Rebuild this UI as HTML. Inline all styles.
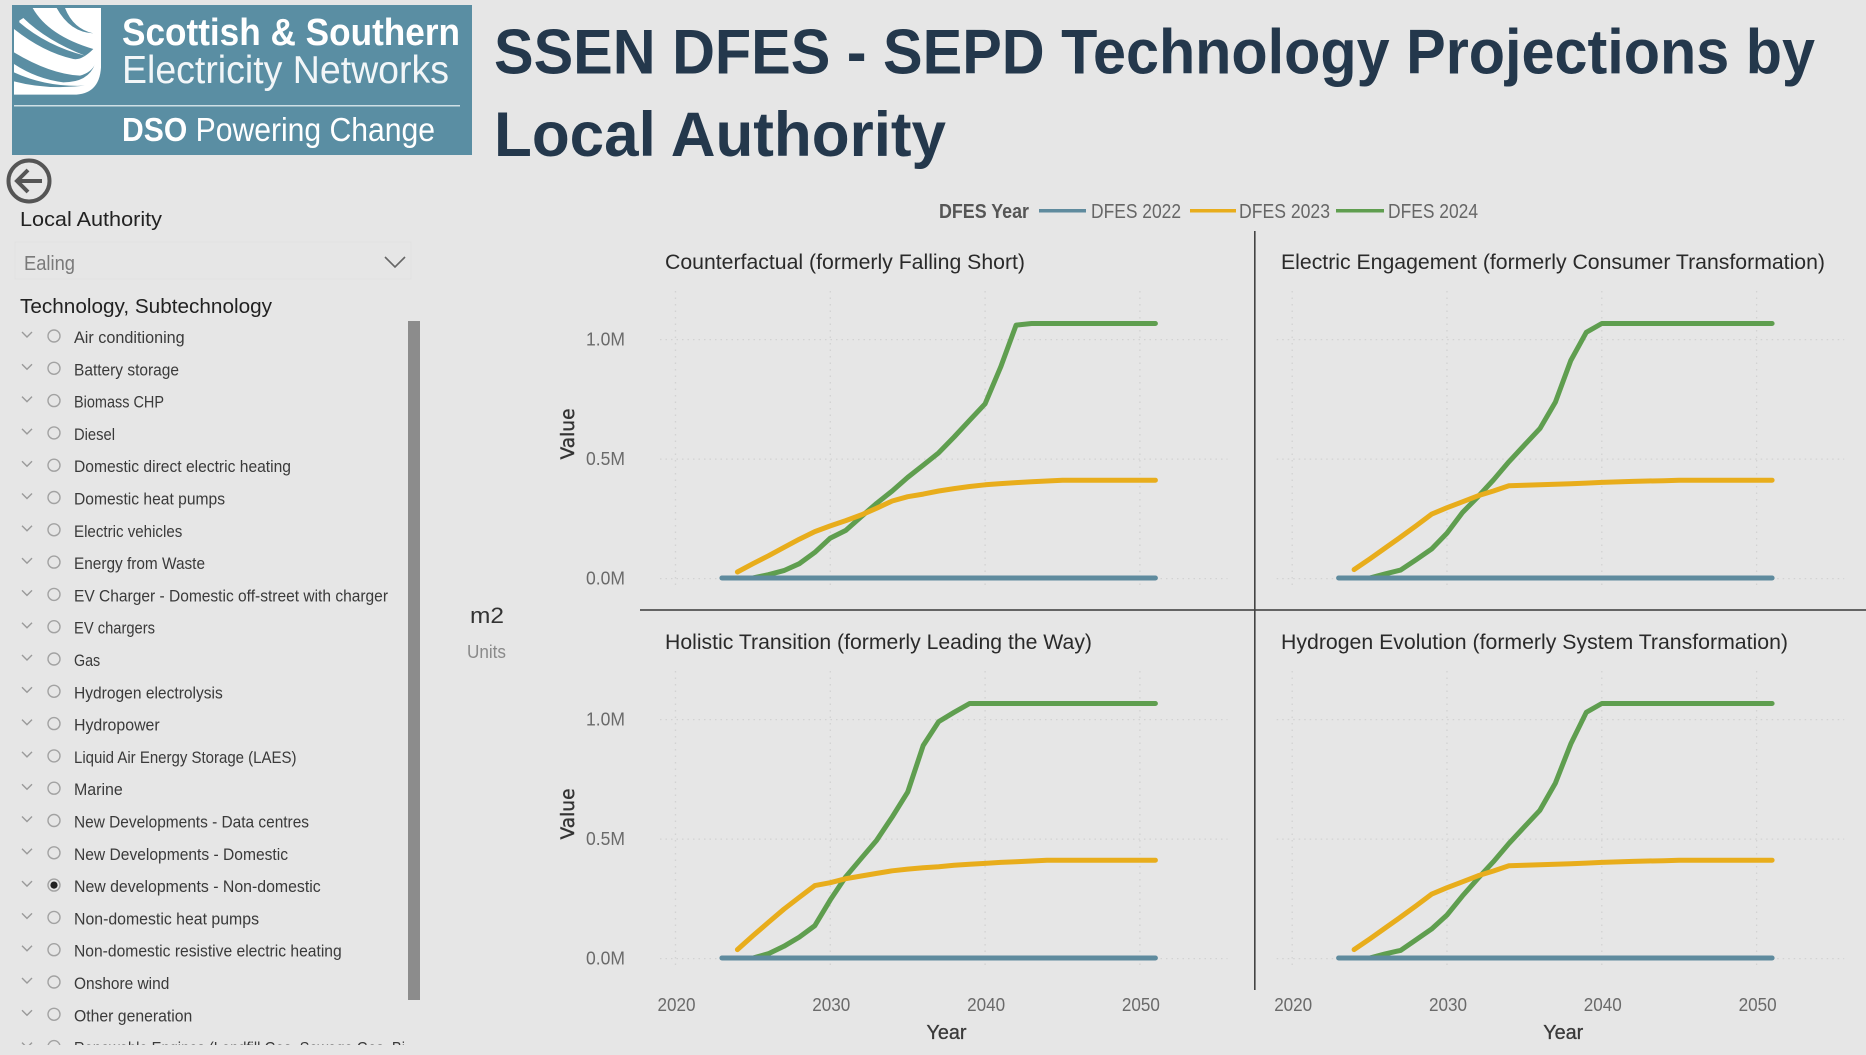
<!DOCTYPE html>
<html lang="en">
<head>
<meta charset="utf-8">
<title>SSEN DFES - SEPD Technology Projections by Local Authority</title>
<style>
html,body{margin:0;padding:0;background:#e6e6e6;width:1866px;height:1055px;overflow:hidden}
svg{display:block}
text{font-family:"Liberation Sans",sans-serif}
.row text{font-size:17px;fill:#3a3a3a}
.row path{fill:none;stroke:#9a9a9a;stroke-width:1.4}
.row circle{fill:none;stroke:#a2a2a2;stroke-width:1.4}
.scenario{font-size:21px;fill:#2a2a2a}
.tick{font-size:18px;fill:#6a6a6a}
.axis-title{font-size:20px;fill:#3a3a3a}
.legend-text{font-size:20px;fill:#666}
</style>
</head>
<body>
<svg id="page" xmlns="http://www.w3.org/2000/svg" width="1866" height="1055" viewBox="0 0 1866 1055">
  <defs><clipPath id="listClip"><rect x="0" y="320" width="405" height="725"/></clipPath></defs>
  <rect width="1866" height="1055" fill="#e6e6e6"/>

  <g>
    <rect x="12" y="5" width="460" height="150" fill="#5a8ea3"/>
    <g transform="translate(10,4) scale(.33333)">
      <path d="M12 12H273V190Q268 272 190 272H12Z" fill="#fff"/>
      <path d="M12 12H68Q115 95 250 135Q215 170 190 165Q100 145 12 75Z" fill="#5a8ea3"/>
      <path d="M28 50L40 42Q110 110 225 155Q110 125 28 55Z" fill="#fff"/>
      <path d="M140 12H165Q190 75 250 88Q180 85 140 12Z" fill="#5a8ea3"/>
      <path d="M12 145Q120 210 210 215Q245 205 255 180Q235 235 160 235Q80 225 12 180Z" fill="#5a8ea3"/>
      <path d="M12 205Q110 250 225 245Q110 258 12 232Z" fill="#5a8ea3"/>
    </g>
    <text x="122" y="45" font-size="38" font-weight="bold" fill="#fff" textLength="338" lengthAdjust="spacingAndGlyphs">Scottish &amp; Southern</text>
    <text x="122" y="83" font-size="39" fill="#f2f6f8" textLength="327" lengthAdjust="spacingAndGlyphs">Electricity Networks</text>
    <rect x="14" y="105" width="446" height="1.5" fill="#cfe0e6"/>
    <text x="122" y="141" font-size="33" fill="#fff" textLength="313" lengthAdjust="spacingAndGlyphs"><tspan font-weight="bold">DSO</tspan> Powering Change</text>
  </g>

  <text x="494" y="73.5" font-size="63" font-weight="bold" fill="#24384c" textLength="1321" lengthAdjust="spacingAndGlyphs">SSEN DFES - SEPD Technology Projections by</text>
  <text x="494" y="156" font-size="63" font-weight="bold" fill="#24384c" textLength="452" lengthAdjust="spacingAndGlyphs">Local Authority</text>

  <g>
    <circle cx="29" cy="181" r="20.5" fill="none" stroke="#555" stroke-width="4"/>
    <path d="M42 181H18M28 170L17 181L28 192" fill="none" stroke="#555" stroke-width="4"/>
  </g>

  <text x="20" y="226" font-size="20" fill="#222" textLength="142" lengthAdjust="spacingAndGlyphs">Local Authority</text>
  <g>
    <rect x="15" y="242" width="396" height="37" fill="none" stroke="#e1e1e1" stroke-width="1"/>
    <text x="24" y="270" font-size="20" fill="#7a7a7a" textLength="51" lengthAdjust="spacingAndGlyphs">Ealing</text>
    <path d="M385 257L395 267L405 257" fill="none" stroke="#666" stroke-width="1.6"/>
  </g>
  <text x="20" y="313" font-size="20" fill="#222" textLength="252" lengthAdjust="spacingAndGlyphs">Technology, Subtechnology</text>

  <g clip-path="url(#listClip)">
    <g class="row" transform="translate(0,343)"><path d="M22-11l5 5 5-5"/><circle cx="54" cy="-7" r="6"/><text x="74" textLength="110.7" lengthAdjust="spacingAndGlyphs">Air conditioning</text></g>
    <g class="row" transform="translate(0,375.3)"><path d="M22-11l5 5 5-5"/><circle cx="54" cy="-7" r="6"/><text x="74" textLength="105" lengthAdjust="spacingAndGlyphs">Battery storage</text></g>
    <g class="row" transform="translate(0,407.6)"><path d="M22-11l5 5 5-5"/><circle cx="54" cy="-7" r="6"/><text x="74" textLength="90" lengthAdjust="spacingAndGlyphs">Biomass CHP</text></g>
    <g class="row" transform="translate(0,439.9)"><path d="M22-11l5 5 5-5"/><circle cx="54" cy="-7" r="6"/><text x="74" textLength="41" lengthAdjust="spacingAndGlyphs">Diesel</text></g>
    <g class="row" transform="translate(0,472.2)"><path d="M22-11l5 5 5-5"/><circle cx="54" cy="-7" r="6"/><text x="74" textLength="217" lengthAdjust="spacingAndGlyphs">Domestic direct electric heating</text></g>
    <g class="row" transform="translate(0,504.5)"><path d="M22-11l5 5 5-5"/><circle cx="54" cy="-7" r="6"/><text x="74" textLength="151" lengthAdjust="spacingAndGlyphs">Domestic heat pumps</text></g>
    <g class="row" transform="translate(0,536.8)"><path d="M22-11l5 5 5-5"/><circle cx="54" cy="-7" r="6"/><text x="74" textLength="108.3" lengthAdjust="spacingAndGlyphs">Electric vehicles</text></g>
    <g class="row" transform="translate(0,569.1)"><path d="M22-11l5 5 5-5"/><circle cx="54" cy="-7" r="6"/><text x="74" textLength="131" lengthAdjust="spacingAndGlyphs">Energy from Waste</text></g>
    <g class="row" transform="translate(0,601.4)"><path d="M22-11l5 5 5-5"/><circle cx="54" cy="-7" r="6"/><text x="74" textLength="314" lengthAdjust="spacingAndGlyphs">EV Charger - Domestic off-street with charger</text></g>
    <g class="row" transform="translate(0,633.7)"><path d="M22-11l5 5 5-5"/><circle cx="54" cy="-7" r="6"/><text x="74" textLength="81" lengthAdjust="spacingAndGlyphs">EV chargers</text></g>
    <g class="row" transform="translate(0,666)"><path d="M22-11l5 5 5-5"/><circle cx="54" cy="-7" r="6"/><text x="74" textLength="26.2" lengthAdjust="spacingAndGlyphs">Gas</text></g>
    <g class="row" transform="translate(0,698.3)"><path d="M22-11l5 5 5-5"/><circle cx="54" cy="-7" r="6"/><text x="74" textLength="148.8" lengthAdjust="spacingAndGlyphs">Hydrogen electrolysis</text></g>
    <g class="row" transform="translate(0,730.6)"><path d="M22-11l5 5 5-5"/><circle cx="54" cy="-7" r="6"/><text x="74" textLength="85.7" lengthAdjust="spacingAndGlyphs">Hydropower</text></g>
    <g class="row" transform="translate(0,762.9)"><path d="M22-11l5 5 5-5"/><circle cx="54" cy="-7" r="6"/><text x="74" textLength="222.5" lengthAdjust="spacingAndGlyphs">Liquid Air Energy Storage (LAES)</text></g>
    <g class="row" transform="translate(0,795.2)"><path d="M22-11l5 5 5-5"/><circle cx="54" cy="-7" r="6"/><text x="74" textLength="48.8" lengthAdjust="spacingAndGlyphs">Marine</text></g>
    <g class="row" transform="translate(0,827.5)"><path d="M22-11l5 5 5-5"/><circle cx="54" cy="-7" r="6"/><text x="74" textLength="235" lengthAdjust="spacingAndGlyphs">New Developments - Data centres</text></g>
    <g class="row" transform="translate(0,859.8)"><path d="M22-11l5 5 5-5"/><circle cx="54" cy="-7" r="6"/><text x="74" textLength="214" lengthAdjust="spacingAndGlyphs">New Developments - Domestic</text></g>
    <g class="row" transform="translate(0,892.1)"><path d="M22-11l5 5 5-5"/><circle cx="54" cy="-7" r="6"/><circle cx="54" cy="-7" r="3.6" style="fill:#222;stroke:none"/><text x="74" textLength="246.7" lengthAdjust="spacingAndGlyphs">New developments - Non-domestic</text></g>
    <g class="row" transform="translate(0,924.4)"><path d="M22-11l5 5 5-5"/><circle cx="54" cy="-7" r="6"/><text x="74" textLength="185" lengthAdjust="spacingAndGlyphs">Non-domestic heat pumps</text></g>
    <g class="row" transform="translate(0,956.7)"><path d="M22-11l5 5 5-5"/><circle cx="54" cy="-7" r="6"/><text x="74" textLength="267.7" lengthAdjust="spacingAndGlyphs">Non-domestic resistive electric heating</text></g>
    <g class="row" transform="translate(0,989)"><path d="M22-11l5 5 5-5"/><circle cx="54" cy="-7" r="6"/><text x="74" textLength="95.3" lengthAdjust="spacingAndGlyphs">Onshore wind</text></g>
    <g class="row" transform="translate(0,1021.3)"><path d="M22-11l5 5 5-5"/><circle cx="54" cy="-7" r="6"/><text x="74" textLength="118.3" lengthAdjust="spacingAndGlyphs">Other generation</text></g>
    <g class="row" transform="translate(0,1053.6)"><path d="M22-11l5 5 5-5"/><circle cx="54" cy="-7" r="6"/><text x="74" textLength="331" lengthAdjust="spacingAndGlyphs">Renewable Engines (Landfill Gas, Sewage Gas, Bi</text></g>
  </g>
  <rect x="408" y="321" width="12" height="679" fill="#8c8c8c"/>

  <text x="470" y="623" font-size="22" fill="#333" textLength="34" lengthAdjust="spacingAndGlyphs">m2</text>
  <text x="467" y="658" font-size="18" fill="#8a8a8a" textLength="39" lengthAdjust="spacingAndGlyphs">Units</text>

  <g>
    <text x="939" y="218" font-size="20" font-weight="bold" fill="#555" textLength="90" lengthAdjust="spacingAndGlyphs">DFES Year</text>
    <rect x="1039" y="209" width="47" height="3.5" fill="#5f8b9e"/>
    <text class="legend-text" x="1091" y="218" textLength="90" lengthAdjust="spacingAndGlyphs">DFES 2022</text>
    <rect x="1190" y="209" width="46" height="3.5" fill="#e8ad1c"/>
    <text class="legend-text" x="1239" y="218" textLength="91" lengthAdjust="spacingAndGlyphs">DFES 2023</text>
    <rect x="1336" y="209" width="48" height="3.5" fill="#5f9e4f"/>
    <text class="legend-text" x="1388" y="218" textLength="90" lengthAdjust="spacingAndGlyphs">DFES 2024</text>
  </g>

  <rect x="1254" y="231" width="1.6" height="759" fill="#444"/>
  <rect x="640" y="609.2" width="1226" height="1.6" fill="#444"/>

  <text class="scenario" x="665" y="269" textLength="360" lengthAdjust="spacingAndGlyphs">Counterfactual (formerly Falling Short)</text>
  <text class="scenario" x="1281" y="269" textLength="544" lengthAdjust="spacingAndGlyphs">Electric Engagement (formerly Consumer Transformation)</text>
  <text class="scenario" x="665" y="649" textLength="427" lengthAdjust="spacingAndGlyphs">Holistic Transition (formerly Leading the Way)</text>
  <text class="scenario" x="1281" y="649" textLength="507" lengthAdjust="spacingAndGlyphs">Hydrogen Evolution (formerly System Transformation)</text>

  <g id="charts"></g>
</svg>

<script>
const years = [2023,2024,2025,2026,2027,2028,2029,2030,2031,2032,2033,2034,2035,2036,2037,2038,2039,2040,2041,2042,2043,2044,2045,2046,2047,2048,2049,2050,2051];
const yearTicks = [2020,2030,2040,2050];
const valueTicks = [0,0.5,1];
const valueTickLabels = ['0.0M','0.5M','1.0M'];

const dfes2022Flat = [0,0,0,0,0,0,0,0,0,0,0,0,0,0,0,0,0,0,0,0,0,0,0,0,0,0,0,0,0];

const counterfactual2023 = [null,.025,.06,.093,.128,.1625,.194,.218,.24,.264,.292,.322,.34,.351,.364,.374,.383,.39,.395,.399,.403,.406,.409,.409,.409,.409,.409,.409,.409];
const counterfactual2024 = [null,null,0,.014,.031,.06,.107,.167,.199,.257,.3125,.364,.421,.472,.524,.59,.66,.729,.882,1.058,1.065,1.065,1.065,1.065,1.065,1.065,1.065,1.065,1.065];

const electric2023 = [null,.035,.079,.125,.171,.218,.267,.294,.319,.344,.364,.386,.388,.39,.392,.394,.397,.4,.402,.404,.406,.407,.409,.409,.409,.409,.409,.409,.409];
const electric2024 = [null,null,0,.017,.033,.076,.121,.188,.274,.34,.41,.486,.556,.625,.736,.91,1.028,1.065,1.065,1.065,1.065,1.065,1.065,1.065,1.065,1.065,1.065,1.065,1.065];

const holistic2023 = [null,.035,.093,.149,.204,.254,.303,.315,.332,.343,.354,.365,.372,.378,.382,.388,.392,.396,.4,.403,.406,.409,.409,.409,.409,.409,.409,.409,.409];
const holistic2024 = [null,null,0,.018,.049,.0875,.135,.243,.34,.417,.493,.59,.694,.889,.989,1.028,1.065,1.065,1.065,1.065,1.065,1.065,1.065,1.065,1.065,1.065,1.065,1.065,1.065];

const hydrogen2023 = [null,.035,.079,.125,.171,.218,.267,.294,.319,.344,.364,.386,.388,.39,.392,.394,.397,.4,.402,.404,.406,.407,.409,.409,.409,.409,.409,.409,.409];
const hydrogen2024 = [null,null,0,.017,.032,.076,.121,.18,.26,.333,.403,.479,.549,.618,.732,.896,1.028,1.065,1.065,1.065,1.065,1.065,1.065,1.065,1.065,1.065,1.065,1.065,1.065];

const SVG_NS = 'http://www.w3.org/2000/svg';
const root = document.getElementById('charts');

function xAxis(originX, year) { return originX + (year - 2020) * 15.48; }
function yAxis(baseY, value) { return baseY - value * 239; }

function make(tag, attrs, parent) {
  const el = document.createElementNS(SVG_NS, tag);
  for (const k in attrs) el.setAttribute(k, attrs[k]);
  parent.appendChild(el);
  return el;
}

function drawSeries(g, originX, baseY, values, color, seriesName) {
  let d = '';
  values.forEach(function (v, i) {
    if (v === null) return;
    d += (d ? 'L' : 'M') + xAxis(originX, years[i]).toFixed(1) + ' ' + yAxis(baseY, v).toFixed(1);
  });
  const line = make('path', {d: d, fill: 'none', stroke: color, 'stroke-width': 5, 'stroke-linecap': 'round', 'stroke-linejoin': 'round'}, g);
  
  
}

function drawPanel(panelName, originX, baseY, showValueAxis, showYearAxis, series2023, series2024) {
  const g = make('g', {}, root);
  
  

  const gridLeft = originX - 15.5;
  const gridRight = originX + 552;
  valueTicks.forEach(function (v) {
    const y = yAxis(baseY, v) + 0.6;
    const gridY = make('line', {x1: gridLeft, x2: gridRight, y1: y, y2: y, stroke: '#d2d2d2', 'stroke-width': 1.3, 'stroke-dasharray': '1.5 4'}, g);
    
    
  });
  yearTicks.forEach(function (t) {
    const x = xAxis(originX, t);
    const gridX = make('line', {x1: x, x2: x, y1: baseY - 287, y2: baseY + 8, stroke: '#d2d2d2', 'stroke-width': 1.3, 'stroke-dasharray': '1.5 5'}, g);
    
    
  });

  if (showValueAxis) {
    valueTicks.forEach(function (v, i) {
      const label = make('text', {x: originX - 50.5, y: yAxis(baseY, v) + 6.5, class: 'tick', 'text-anchor': 'end', textLength: 39, lengthAdjust: 'spacingAndGlyphs'}, g);
      
      
      label.textContent = valueTickLabels[i];
    });
    const valueTitle = make('text', {x: 0, y: 0, 'text-anchor': 'middle', textLength: 51, lengthAdjust: 'spacingAndGlyphs', transform: 'translate(574,' + (baseY - 144) + ') rotate(-90)', style: 'font-family:"DejaVu Sans",sans-serif;font-size:19px;fill:#333;stroke:#333;stroke-width:.4'}, g);
    
    
    valueTitle.textContent = 'Value';
  }

  if (showYearAxis) {
    yearTicks.forEach(function (t) {
      const tick = make('text', {x: xAxis(originX, t) + 1, y: 1011, class: 'tick', 'text-anchor': 'middle', textLength: 38, lengthAdjust: 'spacingAndGlyphs'}, g);
      
      
      tick.textContent = String(t);
    });
    const yearTitle = make('text', {x: originX + 271, y: 1039, class: 'axis-title', 'text-anchor': 'middle', textLength: 40, lengthAdjust: 'spacingAndGlyphs', stroke: '#3a3a3a', 'stroke-width': '.3'}, g);
    
    
    yearTitle.textContent = 'Year';
  }

  drawSeries(g, originX, baseY, series2024, '#5f9e4f', 'series-dfes-2024');
  drawSeries(g, originX, baseY, series2023, '#e8ad1c', 'series-dfes-2023');
  drawSeries(g, originX, baseY, dfes2022Flat, '#5f8b9e', 'series-dfes-2022');
}

drawPanel('counterfactual-panel', 675.5, 578, true, false, counterfactual2023, counterfactual2024);
drawPanel('electric-engagement-panel', 1292.2, 578, false, false, electric2023, electric2024);
drawPanel('holistic-transition-panel', 675.5, 958, true, true, holistic2023, holistic2024);
drawPanel('hydrogen-evolution-panel', 1292.2, 958, false, true, hydrogen2023, hydrogen2024);
</script>
</body>
</html>
